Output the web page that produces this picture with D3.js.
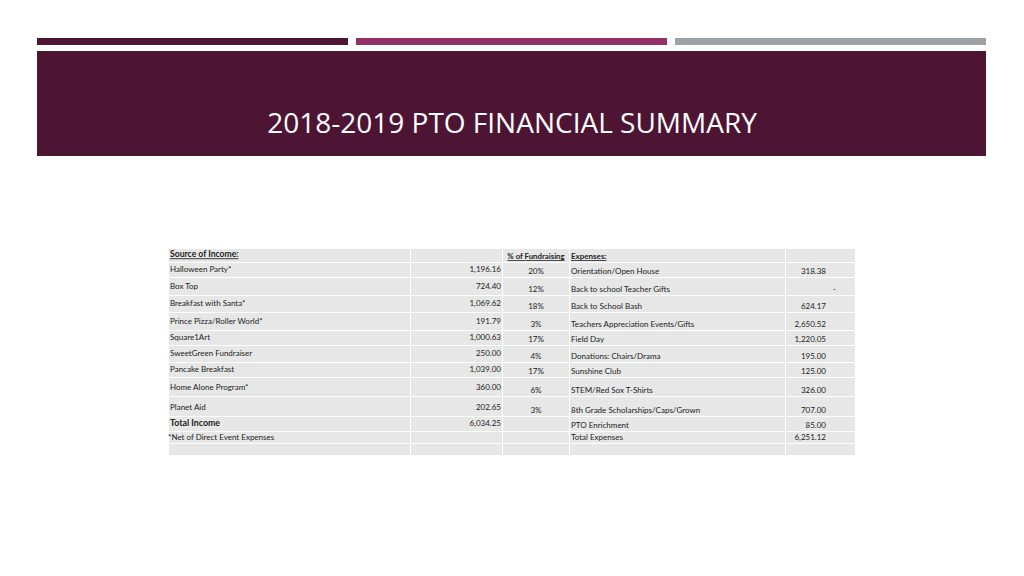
<!DOCTYPE html>
<html>
<head>
<meta charset="utf-8">
<script src="https://cdn.jsdelivr.net/npm/d3@7"></script>
<style>
  body { margin: 0; background: #fff; }
  text { font-family: Lato, "Open Sans", sans-serif; }
</style>
</head>
<body>
<div id="chart"></div>
<script>
// Table content
var incomeLabels = ["Halloween Party*", "Box Top", "Breakfast with Santa*", "Prince Pizza/Roller World*",
  "Square1Art", "SweetGreen Fundraiser", "Pancake Breakfast", "Home Alone Program*", "Planet Aid"];
var incomeValues = ["1,196.16", "724.40", "1,069.62", "191.79", "1,000.63", "250.00", "1,039.00", "360.00", "202.65"];
var pctLabels = ["20%", "12%", "18%", "3%", "17%", "4%", "17%", "6%", "3%"];
var expenseLabels = ["Orientation/Open House", "Back to school Teacher Gifts", "Back to School Bash",
  "Teachers Appreciation Events/Gifts", "Field Day", "Donations: Chairs/Drama", "Sunshine Club",
  "STEM/Red Sox T-Shirts", "8th Grade Scholarships/Caps/Grown", "PTO Enrichment", "Total Expenses"];
var expenseValues = ["318.38", "-", "624.17", "2,650.52", "1,220.05", "195.00", "125.00", "326.00", "707.00", "85.00", "6,251.12"];
var totalIncome = "6,034.25";
var footNote = "*Net of Direct Event Expenses";
var title = "2018-2019 PTO FINANCIAL SUMMARY";

var W = 1024, H = 576;
var svg = d3.select("#chart").append("svg")
  .attr("width", W).attr("height", H);

// header bars
var barColors = ["#4d1433", "#92306a", "#9da2a6"];
var barScale = d3.scaleBand().domain(d3.range(3)).range([37, 986]).paddingInner(8 / 319);
svg.selectAll("rect.topbar").data(barColors).enter().append("rect")
  .attr("class", "topbar")
  .attr("x", function(d, i) { return barScale(i); })
  .attr("y", 38).attr("width", barScale.bandwidth()).attr("height", 7)
  .attr("fill", function(d) { return d; });

svg.append("rect").attr("x", 37).attr("y", 51).attr("width", 949).attr("height", 105)
  .attr("fill", "#4d1433");
svg.append("text").attr("x", 512).attr("y", 133).attr("text-anchor", "middle")
  .attr("fill", "#fff").style("font-size", "28px").style("font-family", "'Open Sans', Lato, sans-serif")
  .text(title);

// table layout
var colEdges = [168, 410, 502, 569, 785, 855];
var rowEdges = [248, 262, 277, 295, 312, 330, 345, 362, 377, 396, 416, 431, 443, 455];
var nRows = rowEdges.length - 1;

var cells = [];
d3.range(nRows).forEach(function(r) {
  d3.range(colEdges.length - 1).forEach(function(c) { cells.push({ r: r, c: c }); });
});
svg.selectAll("rect.cell").data(cells).enter().append("rect")
  .attr("class", "cell")
  .attr("x", function(d) { return colEdges[d.c] + 1; })
  .attr("y", function(d) { return rowEdges[d.r] + 1; })
  .attr("width", function(d) { return colEdges[d.c + 1] - colEdges[d.c] - 1; })
  .attr("height", function(d) { return rowEdges[d.r + 1] - rowEdges[d.r] - 1; })
  .attr("fill", "#e7e7e7");

var fs = "8px";
// left block sits near the top of its cell, right block near the bottom
function rowTop(r) {
  var h = rowEdges[r + 1] - rowEdges[r];
  return rowEdges[r] + 10 + Math.max(-1, (h - 15) * 0.7);
}
function rowBot(r) { return rowEdges[r + 1] - 3; }

// header row
var hdr = svg.append("g").style("font-size", fs).style("font-weight", "bold").attr("fill", "#222");
hdr.append("text").attr("x", 170).attr("y", rowTop(0)).style("font-size", "8.6px")
  .attr("text-decoration", "underline").text("Source of Income:");
hdr.append("text").attr("x", 536).attr("y", rowBot(0)).attr("text-anchor", "middle").style("font-size", "7.8px")
  .attr("text-decoration", "underline").text("% of Fundraising");
hdr.append("text").attr("x", 571).attr("y", rowBot(0)).attr("text-decoration", "underline").text("Expenses:");

var g = svg.append("g").style("font-size", fs).attr("fill", "#222");

g.selectAll("text.inc").data(incomeLabels).enter().append("text")
  .attr("x", 170).attr("y", function(d, i) { return rowTop(i + 1); }).text(function(d) { return d; });
g.selectAll("text.incv").data(incomeValues).enter().append("text")
  .attr("x", 501).attr("text-anchor", "end").attr("y", function(d, i) { return rowTop(i + 1); }).text(function(d) { return d; });
g.selectAll("text.pct").data(pctLabels).enter().append("text")
  .attr("x", 536).attr("text-anchor", "middle").attr("y", function(d, i) { return rowBot(i + 1); }).text(function(d) { return d; });
g.selectAll("text.exp").data(expenseLabels).enter().append("text")
  .attr("x", 571).attr("y", function(d, i) { return rowBot(i + 1); }).text(function(d) { return d; });
g.selectAll("text.expv").data(expenseValues).enter().append("text")
  .attr("x", function(d) { return d === "-" ? 836 : 826; }).attr("text-anchor", "end")
  .attr("y", function(d, i) { return rowBot(i + 1); }).text(function(d) { return d; });

g.append("text").attr("x", 170).attr("y", rowTop(10)).style("font-weight", "bold").style("font-size", "8.8px").text("Total Income");
g.append("text").attr("x", 501).attr("y", rowTop(10)).attr("text-anchor", "end").text(totalIncome);
g.append("text").attr("x", 168).attr("y", rowTop(11)).text(footNote);
</script>
</body>
</html>
